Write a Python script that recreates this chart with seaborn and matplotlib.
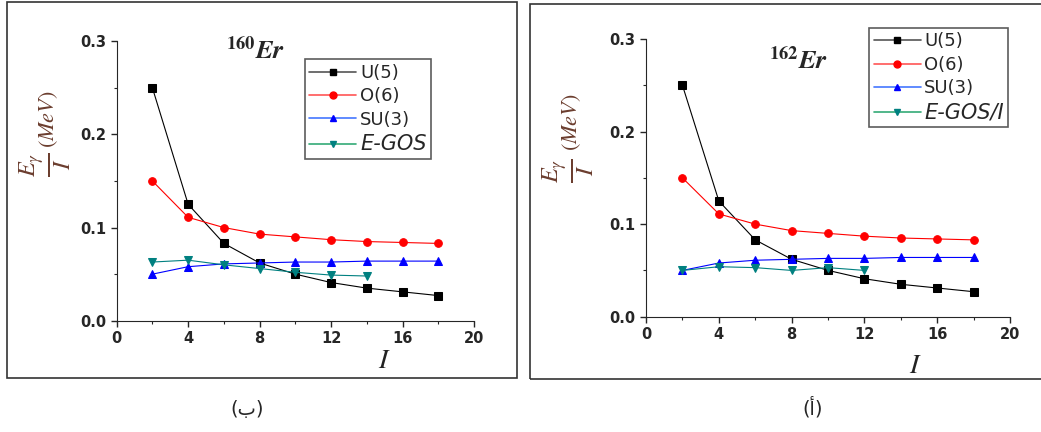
import numpy as np
import pandas as pd
import matplotlib
matplotlib.use('Agg')
import matplotlib.pyplot as plt
import seaborn as sns
from matplotlib.patches import Rectangle
from matplotlib.ticker import MultipleLocator

sns.set_style('ticks')
plt.rcParams['font.family'] = ['DejaVu Sans']
plt.rcParams['mathtext.fontset'] = 'stix'

# Данные
spin = [2, 4, 6, 8, 10, 12, 14, 16, 18]
u5 = [0.250, 0.125, 0.083, 0.062, 0.050, 0.041, 0.035, 0.031, 0.027]
o6 = [0.150, 0.111, 0.100, 0.093, 0.090, 0.087, 0.085, 0.084, 0.083]
su3 = [0.050, 0.058, 0.061, 0.062, 0.063, 0.063, 0.064, 0.064, 0.064]

spin_160 = [2, 4, 6, 8, 10, 12, 14]
egos_160 = [0.063, 0.065, 0.060, 0.056, 0.052, 0.049, 0.048]
spin_162 = [2, 4, 6, 8, 10, 12]
egos_162 = [0.050, 0.054, 0.053, 0.050, 0.053, 0.050]

series_style = {
    'U(5)': dict(color='black', marker='s', legend_color='#555555'),
    'O(6)': dict(color='red', marker='o', legend_color='#ff5555'),
    'SU(3)': dict(color='blue', marker='^', legend_color='#4477ff'),
    'E-GOS': dict(color='#008080', marker='v', legend_color='#33aa77'),
}

fig = plt.figure(figsize=(10.41, 4.32), dpi=100)

# рамки вокруг панелей
fig.patches.append(Rectangle((7 / 1041, 1 - 378 / 432), 510 / 1041, 376 / 432,
                             transform=fig.transFigure, fill=False, ec='#333333', lw=1.2))
fig.patches.append(Rectangle((530 / 1041, 1 - 379 / 432), 520 / 1041, 375 / 432,
                             transform=fig.transFigure, fill=False, ec='#333333', lw=1.2))

ax1 = fig.add_axes([0.1121, 0.2576, 0.3432, 0.6468])
ax2 = fig.add_axes([0.6206, 0.2669, 0.3497, 0.6428])

panels = [
    (ax1, spin_160, egos_160, r'$^{\mathbf{160}}\mathbfit{Er}$', 'E-GOS',
     (0.527, 0.935), (0.39, 0.965), (0.75, -0.14)),
    (ax2, spin_162, egos_162, r'$^{\mathbf{162}}\mathbfit{Er}$', 'E-GOS/I',
     (0.613, 1.04), (0.42, 0.92), (0.74, -0.175)),
]

for ax, sp_e, egos, title, egos_label, leg_pos, title_pos, xl_pos in panels:
    data = {'U(5)': (spin, u5), 'O(6)': (spin, o6), 'SU(3)': (spin, su3), 'E-GOS': (sp_e, egos)}
    for name, (xs, ys) in data.items():
        st = series_style[name]
        df = pd.DataFrame({'I': xs, 'E': ys})
        sns.lineplot(data=df, x='I', y='E', ax=ax, color=st['color'], marker=st['marker'],
                     markersize=5.5, markeredgecolor=st['color'], linewidth=0.8, legend=False)

    ax.set_xlim(0, 20)
    ax.set_ylim(0, 0.3)
    ax.xaxis.set_major_locator(MultipleLocator(4))
    ax.xaxis.set_minor_locator(MultipleLocator(2))
    ax.yaxis.set_major_locator(MultipleLocator(0.1))
    ax.yaxis.set_minor_locator(MultipleLocator(0.05))
    ax.yaxis.set_major_formatter(matplotlib.ticker.FormatStrFormatter('%.1f'))
    ax.tick_params(which='major', length=4, width=1, labelsize=10.5)
    ax.tick_params(which='minor', length=2, width=0.8)
    for lab in ax.get_xticklabels() + ax.get_yticklabels():
        lab.set_fontweight('bold')
    sns.despine(ax=ax)
    ax.set_xlabel('')
    ax.set_ylabel('')

    # легенда
    handles = []
    for name in ['U(5)', 'O(6)', 'SU(3)', 'E-GOS']:
        st = series_style[name]
        h, = ax.plot([], [], color=st['legend_color'], marker=st['marker'], markersize=5,
                     markerfacecolor=st['color'], markeredgecolor=st['color'], lw=1.2)
        handles.append(h)
    labels = ['U(5)', 'O(6)', 'SU(3)', egos_label]
    leg = ax.legend(handles, labels, loc='upper left', bbox_to_anchor=leg_pos, fontsize=13,
                    frameon=True, fancybox=False, edgecolor='#333333', handlelength=2.6,
                    handletextpad=0.2, borderpad=0.25, labelspacing=0.3, borderaxespad=0)
    leg.get_frame().set_linewidth(1.2)
    leg.get_texts()[3].set_fontstyle('italic')
    leg.get_texts()[3].set_fontsize(15)

    ax.text(title_pos[0], title_pos[1], title, transform=ax.transAxes, fontsize=19,
            ha='center', va='center')
    ax.text(xl_pos[0], xl_pos[1], r'$\mathit{I}$', transform=ax.transAxes, fontsize=20,
            ha='center', va='center', color='#222222')

# подписи оси Y: дробь и (MeV) отдельно
ylab_color = '#6b3d2e'
for frac_xy, mev_xy in [((45, 165), (49, 119)), ((568, 171), (572, 122))]:
    fig.text(frac_xy[0] / 1041, 1 - frac_xy[1] / 432, r'$\frac{E_{\gamma}}{I}$', rotation=90,
             fontsize=25, color=ylab_color, ha='center', va='center')
    fig.text(mev_xy[0] / 1041, 1 - mev_xy[1] / 432, r'$(MeV)$', rotation=90,
             fontsize=16, color=ylab_color, ha='center', va='center')

fig.text(247 / 1041, 1 - 410 / 432, '(ب)', fontsize=14, ha='center', va='center',
         family=['DejaVu Sans'])
fig.text(813 / 1041, 1 - 408 / 432, '(أ)', fontsize=14, ha='center', va='center',
         family=['DejaVu Sans'])

fig.savefig('out.png', dpi=100)
